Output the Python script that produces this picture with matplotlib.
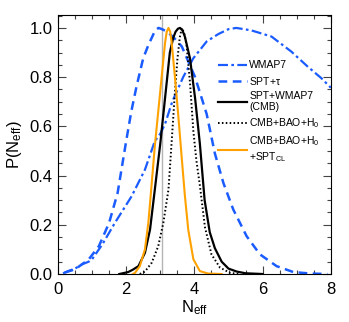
import matplotlib
matplotlib.use('Agg')
import matplotlib.pyplot as plt
from matplotlib import font_manager
from matplotlib.ticker import MultipleLocator

plt.rcParams['font.family'] = 'Liberation Sans'
plt.rcParams['mathtext.default'] = 'regular'

# narrow face for the legend if it is there
try:
    font_manager.findfont('Liberation Sans Narrow', fallback_to_default=False)
    legend_font = 'Liberation Sans Narrow'
except Exception:
    legend_font = 'Liberation Sans'

# WMAP7 alone (dash-dot)
wmap_x = [0.15, 0.3, 0.5, 0.7, 0.9, 1.0, 1.3, 1.67, 2.16, 2.55, 2.84, 3.0, 3.14, 3.35, 3.67,
          3.97, 4.36, 4.7, 5.0, 5.23, 5.67, 6.26, 6.84, 7.32, 7.72, 8.0]
wmap_y = [0.003, 0.012, 0.022, 0.039, 0.05, 0.06, 0.12, 0.208, 0.316, 0.424, 0.54, 0.57, 0.61,
          0.70, 0.80, 0.877, 0.945, 0.975, 0.995, 1.0, 0.99, 0.965, 0.904, 0.843, 0.796, 0.757]

# SPT+tau (dashed)
spt_x = [0.2, 0.5, 0.9, 1.2, 1.5, 1.75, 2.0, 2.15, 2.3, 2.5, 2.65, 2.75, 2.85, 2.95, 3.05,
         3.2, 3.4, 3.63, 4.02, 4.36, 4.6, 4.85, 5.14, 5.53, 5.92, 6.41, 6.9, 7.4, 7.9]
spt_y = [0.006, 0.019, 0.059, 0.113, 0.208, 0.33, 0.54, 0.66, 0.76, 0.877, 0.93, 0.96, 0.99,
         1.0, 0.995, 0.985, 0.96, 0.925, 0.80, 0.65, 0.49, 0.37, 0.262, 0.154, 0.08, 0.032,
         0.008, 0.002, 0.0]

# SPT+WMAP7 (solid black)
cmb_x = [1.8, 2.06, 2.2, 2.36, 2.55, 2.7, 2.84, 3.0, 3.14, 3.28, 3.38, 3.45, 3.52, 3.58,
         3.65, 3.72, 3.87, 4.02, 4.16, 4.3, 4.45, 4.6, 4.8, 5.0, 5.24, 5.5, 6.0]
cmb_y = [0.0, 0.008, 0.018, 0.032, 0.086, 0.181, 0.343, 0.53, 0.715, 0.90, 0.96, 0.985,
         0.997, 1.0, 0.99, 0.965, 0.877, 0.715, 0.53, 0.30, 0.17, 0.105, 0.05, 0.022, 0.01,
         0.003, 0.0]

# CMB+BAO+H0 (dotted)
bao_x = [2.4, 2.55, 2.75, 2.94, 3.09, 3.24, 3.33, 3.42, 3.5, 3.57, 3.63, 3.7, 3.77, 3.87,
         3.97, 4.06, 4.16, 4.31, 4.5, 4.75, 5.04, 5.3]
bao_y = [0.0, 0.01, 0.046, 0.113, 0.208, 0.343, 0.53, 0.72, 0.87, 0.96, 1.0, 0.98, 0.93, 0.78,
         0.58, 0.46, 0.36, 0.19, 0.08, 0.026, 0.005, 0.0]

# CMB+BAO+H0+SPT_CL (orange)
cl_x = [2.2, 2.26, 2.4, 2.55, 2.65, 2.75, 2.84, 2.94, 3.04, 3.14, 3.19, 3.24, 3.29, 3.33,
        3.43, 3.53, 3.63, 3.72, 3.82, 3.97, 4.16, 4.4, 4.8]
cl_y = [0.0, 0.005, 0.032, 0.10, 0.208, 0.37, 0.52, 0.66, 0.80, 0.94, 0.985, 1.0, 0.985,
        0.945, 0.80, 0.64, 0.47, 0.32, 0.18, 0.06, 0.012, 0.002, 0.0]

neff_std = 3.046
blue = '#1a5cff'
orange = '#ffa200'

fig = plt.figure(figsize=(3.49, 3.22), dpi=100)
ax = fig.add_axes([0.166, 0.149, 0.782, 0.804])

ax.axvline(neff_std, color='#b4b4b4', lw=1.0)
ax.plot(wmap_x, wmap_y, color=blue, lw=1.6, dashes=(4.5, 1.5, 1.2, 1.5), label='WMAP7')
ax.plot(spt_x, spt_y, color=blue, lw=1.8, dashes=(3.5, 2.2), label='SPT+$\\tau$')
ax.plot(cmb_x, cmb_y, color='black', lw=1.6, label='SPT+WMAP7\n(CMB)')
ax.plot(bao_x, bao_y, color='black', lw=1.4, dashes=(0.8, 1.2), label='CMB+BAO+H$_0$')
ax.plot(cl_x, cl_y, color=orange, lw=1.5, label='CMB+BAO+H$_0$\n+SPT$_{CL}$')

ax.set_xlim(0, 8)
ax.set_ylim(0, 1.052)
ax.xaxis.set_major_locator(MultipleLocator(2))
ax.xaxis.set_minor_locator(MultipleLocator(0.5))
ax.yaxis.set_major_locator(MultipleLocator(0.2))
ax.yaxis.set_minor_locator(MultipleLocator(0.05))
ax.tick_params(which='both', direction='in', top=True, right=True, labelsize=12,
               width=0.8, color='#444444')
ax.tick_params(which='major', length=6)
ax.tick_params(which='minor', length=3)
ax.tick_params(axis='x', pad=6)
ax.tick_params(axis='y', pad=4)
for s in ax.spines.values():
    s.set_linewidth(0.8)
ax.set_yticklabels(['%.1f' % v for v in ax.get_yticks()])

ax.set_xlabel('N$_{eff}$', fontsize=12, labelpad=1)
ax.set_ylabel('P(N$_{eff}$)', fontsize=12, labelpad=4)

ax.legend(loc='upper left', bbox_to_anchor=(0.588, 0.825), frameon=False,
          prop={'family': legend_font, 'size': 7.5},
          handlelength=2.7, handletextpad=0.25, labelspacing=0.4, borderpad=0,
          borderaxespad=0)

fig.savefig('out.png', dpi=100)
